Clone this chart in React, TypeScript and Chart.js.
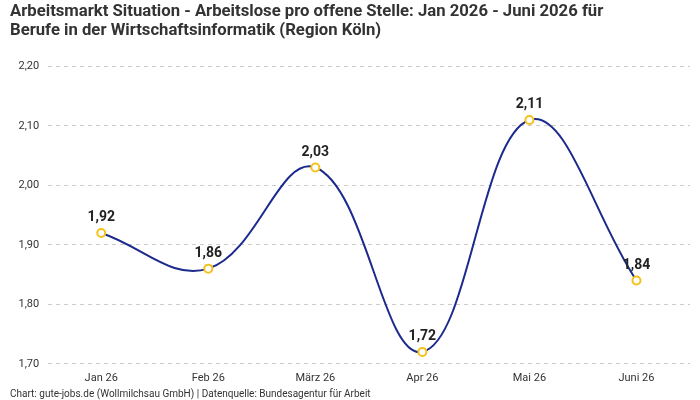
import React, { useEffect, useRef } from "react";
import { Chart, registerables } from "chart.js";

Chart.register(...registerables);

const categories = ["Jan 26", "Feb 26", "März 26", "Apr 26", "Mai 26", "Juni 26"];
const values = [1.92, 1.86, 2.03, 1.72, 2.11, 1.84];
const titleLines = [
  "Arbeitsmarkt Situation - Arbeitslose pro offene Stelle: Jan 2026 - Juni 2026 für",
  "Berufe in der Wirtschaftsinformatik (Region Köln)",
];
const footerText = "Chart: gute-jobs.de (Wollmilchsau GmbH) | Datenquelle: Bundesagentur für Arbeit";

const fmt = (v: number) => v.toFixed(2).replace(".", ",");

const labelPlugin = {
  id: "valueLabels",
  afterDatasetsDraw(chart: any) {
    const ctx = chart.ctx;
    const meta = chart.getDatasetMeta(0);
    ctx.save();
    ctx.font = "bold 14px Roboto";
    ctx.fillStyle = "#222";
    ctx.textAlign = "center";
    ctx.textBaseline = "bottom";
    meta.data.forEach((pt: any, i: number) => {
      ctx.fillText(fmt(values[i]), pt.x, pt.y - 8);
    });
    ctx.restore();
  },
};

export default function App() {
  const ref = useRef<HTMLCanvasElement>(null);
  useEffect(() => {
    if (!ref.current) return;
    const chart = new Chart(ref.current, {
      type: "line",
      data: {
        labels: categories,
        datasets: [
          {
            data: values,
            borderColor: "#1b2a8c",
            borderWidth: 2,
            tension: 0.4,
            pointRadius: 4,
            pointBorderWidth: 2,
            pointBackgroundColor: "#ffffff",
            pointBorderColor: "#f5c21b",
            fill: false,
          },
        ],
      },
      options: {
        animation: false,
        responsive: false,
        maintainAspectRatio: false,
        layout: { padding: { left: 10, right: 10, top: 2, bottom: 0 } },
        plugins: {
          legend: { display: false },
          tooltip: { enabled: false },
          title: {
            display: true,
            text: titleLines,
            align: "start",
            color: "#333",
            font: { family: "Roboto", size: 16.7, weight: "bold", lineHeight: 1.15 },
            padding: { top: 0, bottom: 26 },
          },
          subtitle: {
            display: true,
            position: "bottom",
            text: footerText,
            align: "start",
            color: "#333",
            font: { family: "Roboto", size: 10 },
            padding: { top: 3, bottom: 0 },
          },
        },
        scales: {
          x: {
            offset: true,
            grid: { display: false },
            border: { display: false },
            ticks: { color: "#333", font: { family: "Roboto", size: 11 }, padding: 0 },
          },
          y: {
            min: 1.7,
            max: 2.2,
            border: { display: false, dash: [4, 4] },
            grid: { color: "#cccccc", drawTicks: false },
            ticks: {
              stepSize: 0.1,
              color: "#333",
              padding: 8.5,
              font: { family: "Roboto", size: 11 },
              callback: (v: any) => fmt(Number(v)),
            },
          },
        },
      },
      plugins: [labelPlugin],
    });
    return () => chart.destroy();
  }, []);
  return (
    <div style={{ position: "absolute", left: 0, top: 0, width: 700, height: 400 }}>
      <canvas ref={ref} width={700} height={400} />
    </div>
  );
}
